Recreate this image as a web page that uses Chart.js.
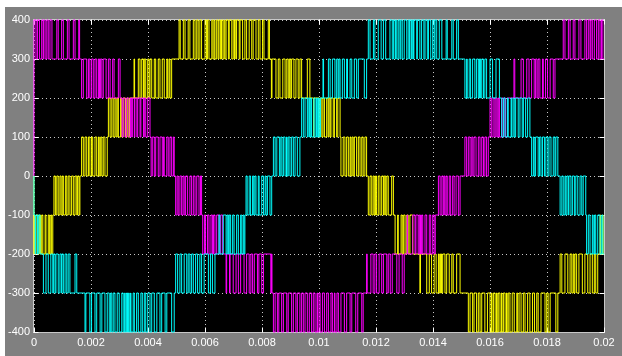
<!DOCTYPE html>
<html>
<head>
<meta charset="utf-8">
<script src="https://cdn.jsdelivr.net/npm/chart.js@4/dist/chart.umd.min.js"></script>
<style>
html,body{margin:0;padding:0;background:#808080;}
#c{display:block;}
</style>
</head>
<body>
<canvas id="c" width="622" height="356"></canvas>
<script>
// ---- axis ticks ----
const xTickValuesMs = [0,2,4,6,8,10,12,14,16,18,20];
const xTickLabels = ['0','0.002','0.004','0.006','0.008','0.01','0.012','0.014','0.016','0.018','0.02'];
const yTickLabels = ['400','300','200','100','0','-100','-200','-300','-400'];

// ---- phase signals: band lower levels per segment, switching times (ms) per segment ----
// level flips between band lo and lo+100 at each switching time
const magentaStart = 400;
const magentaBands = [300,200,100,0,-100,-200,-300,-400,-300,-200,-100,0,100,200,300];
const magentaEdgesMs = [
 [0.07,0.12,0.19,0.27,0.32,0.34,0.39,0.45,0.5,0.56,0.63,0.8,0.85,0.97,1.03,1.17,1.23,1.38,1.44,1.57,1.6],
 [1.67,1.73,1.85,1.91,1.96,2.02,2.08,2.14,2.2,2.26,2.3,2.33,2.38,2.43,2.53,2.61,2.67,2.76,2.81,2.96,3.02],
 [3.09,3.12,3.19,3.25,3.33,3.39,3.43,3.45,3.52,3.54,3.61,3.64,3.72,3.75,3.84,3.87,3.92,3.99,4.07],
 [4.11,4.15,4.22,4.27,4.36,4.42,4.5,4.54,4.57,4.66,4.71,4.77,4.83,4.89,4.92],
 [4.97,5.02,5.06,5.12,5.18,5.23,5.27,5.32,5.39,5.47,5.53,5.59,5.65,5.71,5.79,5.84,5.88],
 [5.92,5.98,6.02,6.09,6.14,6.21,6.26,6.3,6.35,6.41,6.49,6.55,6.62],
 [6.74,6.76,6.86,6.88,6.99,7.09,7.17,7.25,7.37,7.46,7.55,7.61,7.67,7.73,7.84,7.89,7.99,8.05,8.31,8.33,8.35],
 [8.4,8.46,8.54,8.59,8.69,8.75,8.87,8.92,9.04,9.1,9.19,9.24,9.33,9.39,9.45,9.51,9.59,9.66,9.74,9.8,9.86,9.93,9.95,10.0,10.04,10.12,10.19,10.27,10.33,10.42,10.47,10.54,10.56,10.63,10.68,10.77,10.89,10.97,11.09,11.15,11.29,11.36,11.5,11.55],
 [11.67,11.69,11.82,11.9,11.96,12.02,12.11,12.2,12.26,12.38,12.43,12.5,12.57,12.73,12.81,12.92,12.99],
 [13.09,13.11,13.29,13.37,13.4,13.48,13.52,13.56,13.6,13.64,13.72,13.78,13.87,13.92,13.99,14.04,14.08],
 [14.19,14.25,14.31,14.36,14.39,14.42,14.46,14.5,14.57,14.62,14.69,14.74,14.81,14.89,14.95],
 [15.12,15.18,15.24,15.3,15.36,15.4,15.44,15.51,15.59,15.65,15.71,15.77,15.82,15.88,15.94],
 [16.0,16.06,16.11,16.17,16.21,16.25,16.29,16.33,16.41,16.46,16.49,16.54,16.61],
 [16.84,16.87,17.09,17.17,17.29,17.37,17.46,17.55,17.6,17.65,17.69,17.75,17.84,17.87,17.95,18.02,18.11,18.22,18.28],
 [18.57,18.63,18.75,18.81,18.92,18.98,19.12,19.19,19.33,19.39,19.45,19.51,19.54,19.59,19.66,19.74,19.8,19.86,19.91,19.96]
];

const yellowStart = -200;
const yellowBands = [-200,-100,0,100,200,300,200,100,0,-100,-200,-300,-400,-300,-200];
const yellowEdgesMs = [
 [0.01,0.02,0.07,0.14,0.19,0.23,0.27,0.31,0.39,0.42,0.5,0.54,0.59,0.62,0.66],
 [0.7,0.75,0.8,0.85,0.91,0.95,0.99,1.03,1.1,1.15,1.2,1.26,1.32,1.38,1.44,1.5,1.53,1.58,1.61],
 [1.67,1.73,1.79,1.85,1.91,1.96,2.02,2.06,2.14,2.2,2.26,2.29,2.34,2.38,2.43,2.49,2.57],
 [2.61,2.67,2.73,2.78,2.84,2.88,2.92,2.96,3.04,3.08,3.13,3.21,3.26,3.3,3.35],
 [3.51,3.53,3.66,3.72,3.78,3.84,3.87,3.92,3.99,4.04,4.07,4.13,4.22,4.27,4.36,4.42,4.5,4.57,4.66,4.69,4.74,4.77,4.83],
 [5.09,5.13,5.24,5.3,5.41,5.47,5.59,5.65,5.71,5.76,5.82,5.88,6.0,6.05,6.09,6.14,6.24,6.28,6.32,6.35,6.41,6.46,6.49,6.54,6.58,6.63,6.67,6.7,6.74,6.82,6.85,6.94,6.99,7.04,7.05,7.09,7.11,7.2,7.23,7.32,7.4,7.46,7.55,7.64,7.69,7.79,7.87,7.93,8.02,8.07,8.22,8.26],
 [8.33,8.35,8.49,8.57,8.63,8.73,8.81,8.87,8.92,8.96,9.01,9.04,9.12,9.19,9.27,9.33,9.39,9.59,9.68],
 [9.81,9.82,10.0,10.04,10.1,10.14,10.19,10.27,10.32,10.35,10.39,10.42,10.5,10.54,10.62,10.66,10.74],
 [10.77,10.85,10.91,10.97,11.03,11.09,11.12,11.16,11.2,11.24,11.32,11.38,11.44,11.5,11.55,11.61,11.67],
 [11.73,11.79,11.85,11.9,11.94,11.98,12.02,12.08,12.14,12.2,12.26,12.29,12.34,12.38,12.43,12.55,12.61],
 [12.67,12.76,12.78,12.88,12.92,12.97,13.02,13.08,13.13,13.19,13.29],
 [13.54,13.56,13.78,13.87,13.95,14.04,14.11,14.19,14.22,14.26,14.3,14.34,14.42,14.48,14.57,14.66,14.71,14.83,14.95],
 [15.24,15.3,15.39,15.44,15.53,15.59,15.65,15.71,15.82,15.91,16.0,16.05,16.07,16.12,16.18,16.23,16.25,16.29,16.35,16.4,16.42,16.47,16.53,16.58,16.6,16.64,16.7,16.78,16.85,16.94,16.97,17.02,17.09,17.17,17.23,17.32,17.4,17.49,17.56,17.64,17.69,17.79,17.93,17.99,18.04,18.11,18.31,18.38],
 [18.46,18.52,18.63,18.73,18.81,18.87,18.92,18.95,18.98,19.04,19.12,19.24,19.33,19.43,19.51,19.59,19.66,19.71,19.78],
 [19.86,19.88,19.95,19.97]
];

const cyanStart = -100;
const cyanBands = [-200,-300,-400,-300,-200,-100,0,100,200,300,200,100,0,-100,-200];
const cyanEdgesMs = [
 [0.04,0.06,0.12,0.15,0.21],
 [0.33,0.42,0.5,0.59,0.66,0.69,0.74,0.77,0.85,0.91,0.96,0.98,1.03,1.09,1.15,1.2,1.26,1.44,1.5],
 [1.79,1.82,1.96,2.02,2.14,2.2,2.32,2.38,2.49,2.57,2.64,2.69,2.73,2.78,2.84,2.92,2.99,3.08,3.13,3.18,3.2,3.25,3.28,3.32,3.34,3.39,3.4,3.48,3.52,3.6,3.66,3.75,3.8,3.87,3.92,3.99,4.07,4.13,4.22,4.31,4.42,4.48,4.6,4.66,4.83,4.92],
 [4.97,5.04,5.12,5.18,5.27,5.36,5.41,5.47,5.53,5.59,5.67,5.74,5.82,5.88,5.97,6.12,6.19,6.26,6.35],
 [6.49,6.52,6.64,6.74,6.78,6.82,6.85,6.9,6.97,7.02,7.11,7.17,7.25,7.29,7.34,7.37,7.4],
 [7.44,7.48,7.55,7.6,7.67,7.71,7.75,7.79,7.87,7.9,7.99,8.05,8.11,8.14,8.19,8.28,8.34],
 [8.4,8.46,8.52,8.61,8.66,8.7,8.75,8.81,8.86,8.88,8.92,8.98,9.04,9.1,9.16,9.24,9.33],
 [9.39,9.45,9.51,9.59,9.62,9.67,9.71,9.74,9.82,9.86,9.91,9.94,9.98,10.01,10.05],
 [10.14,10.16,10.33,10.39,10.47,10.56,10.62,10.67,10.7,10.74,10.82,10.89,10.97,11.0,11.09,11.15,11.24,11.32,11.38,11.59,11.67],
 [11.73,11.79,11.91,11.96,12.08,12.18,12.26,12.34,12.49,12.57,12.61,12.67,12.69,12.73,12.78,12.84,12.87,12.92,12.99,13.08,13.13,13.18,13.19,13.25,13.27,13.31,13.33,13.43,13.45,13.54,13.6,13.68,13.72,13.8,13.84,13.92,13.99,14.04,14.07,14.13,14.22,14.31,14.46,14.5,14.66,14.71,14.83,14.89],
 [15.12,15.18,15.2,15.27,15.32,15.39,15.47,15.53,15.59,15.63,15.67,15.71,15.77,15.82,15.88,16.0,16.09,16.21,16.33],
 [16.41,16.47,16.53,16.61,16.64,16.74,16.76,16.81,16.85,16.9,16.99,17.05,17.13,17.17,17.25,17.32,17.4],
 [17.46,17.52,17.55,17.6,17.69,17.74,17.79,17.84,17.91,17.96,18.03,18.07,18.14,18.22,18.28,18.31,18.38],
 [18.46,18.52,18.57,18.63,18.66,18.7,18.75,18.77,18.84,18.89,18.96,19.01,19.08,19.16,19.22,19.27,19.36],
 [19.39,19.45,19.51,19.59,19.62,19.67,19.71,19.78,19.86,19.92,19.96]
];

// ---- build step series from the switching data ----
function buildTrace(bands, edges, firstEntry) {
  const pts = [{x: 0, y: 0}];
  let level = firstEntry;
  pts.push({x: 0, y: level});
  let prev = null;
  bands.forEach((lo, i) => {
    const hi = lo + 100;
    const entry = prev === null ? firstEntry : (lo < prev ? hi : lo);
    const list = edges[i];
    if (level !== entry && list.length) { level = entry; pts.push({x: list[0], y: level}); }
    list.forEach(t => { level = (level === lo) ? hi : lo; pts.push({x: t, y: level}); });
    prev = lo;
  });
  pts.push({x: 20, y: level});
  return pts;
}

const frame = {
  id: 'frame',
  beforeDraw(chart) {
    const c = chart.ctx, a = chart.chartArea;
    c.save();
    c.fillStyle = '#ffffff';
    c.fillRect(0, 0, chart.width, chart.height);
    c.fillStyle = '#808080';
    c.fillRect(5, 7, chart.width - 5, chart.height - 7);
    c.fillStyle = '#000000';
    c.fillRect(a.left, a.top, a.right - a.left, a.bottom - a.top);
    c.restore();
  },
  beforeDatasetsDraw(chart) {
    const c = chart.ctx, a = chart.chartArea;
    const L = Math.round(a.left) - 0.5, R = Math.round(a.right) + 0.5;
    const T = Math.round(a.top) - 0.5, B = Math.round(a.bottom) + 0.5;
    c.save();
    c.strokeStyle = '#c8c8c8';
    c.lineWidth = 1;
    c.strokeRect(L, T, R - L, B - T);
    c.strokeStyle = '#ffffff';
    c.beginPath();
    const xs = chart.scales.x, ys = chart.scales.y;
    xs.ticks.forEach(t => {
      const px = Math.round(xs.getPixelForValue(t.value)) + 0.5;
      c.moveTo(px, B); c.lineTo(px, B - 5);
      c.moveTo(px, T); c.lineTo(px, T + 5);
    });
    ys.ticks.forEach(t => {
      const py = Math.round(ys.getPixelForValue(t.value)) + 0.5;
      c.moveTo(L, py); c.lineTo(L + 5, py);
      c.moveTo(R, py); c.lineTo(R - 5, py);
    });
    c.stroke();
    c.restore();
  }
};

const tickFont = {family: "'Liberation Sans', Arial, sans-serif", size: 11};

function ds(label, color, data) {
  return {label, data, borderColor: color, borderWidth: 1, pointRadius: 0,
          stepped: true, fill: false, tension: 0, clip: false};
}

new Chart(document.getElementById('c'), {
  type: 'line',
  data: {
    datasets: [
      ds('cyan', '#00ffff', buildTrace(cyanBands, cyanEdgesMs, cyanStart)),
      ds('magenta', '#ff00ff', buildTrace(magentaBands, magentaEdgesMs, magentaStart)),
      ds('yellow', '#ffff00', buildTrace(yellowBands, yellowEdgesMs, yellowStart))
    ]
  },
  options: {
    responsive: false,
    animation: false,
    events: [],
    parsing: false,
    layout: {padding: {top: 20, right: 18, left: 0, bottom: 0}},
    plugins: {legend: {display: false}, tooltip: {enabled: false}},
    scales: {
      x: {
        type: 'linear', min: 0, max: 20,
        afterBuildTicks: s => { s.ticks = xTickValuesMs.map(v => ({value: v})); },
        afterFit: s => { s.height = 24; },
        ticks: {color: '#ffffff', font: tickFont, padding: 4, maxRotation: 0, autoSkip: false,
                callback: (v, i) => xTickLabels[i]},
        grid: {color: '#c8c8c8', drawTicks: false, lineWidth: 1},
        border: {display: false, dash: [1, 3]}
      },
      y: {
        type: 'linear', min: -400, max: 400,
        afterBuildTicks: s => { s.ticks = yTickLabels.map(l => ({value: Number(l)})); },
        afterFit: s => { s.width = 34; },
        ticks: {color: '#ffffff', font: tickFont, padding: 4,
                callback: (v, i) => yTickLabels[i]},
        grid: {color: '#c8c8c8', drawTicks: false, lineWidth: 1},
        border: {display: false, dash: [1, 3]}
      }
    }
  },
  plugins: [frame]
});
</script>
</body>
</html>
